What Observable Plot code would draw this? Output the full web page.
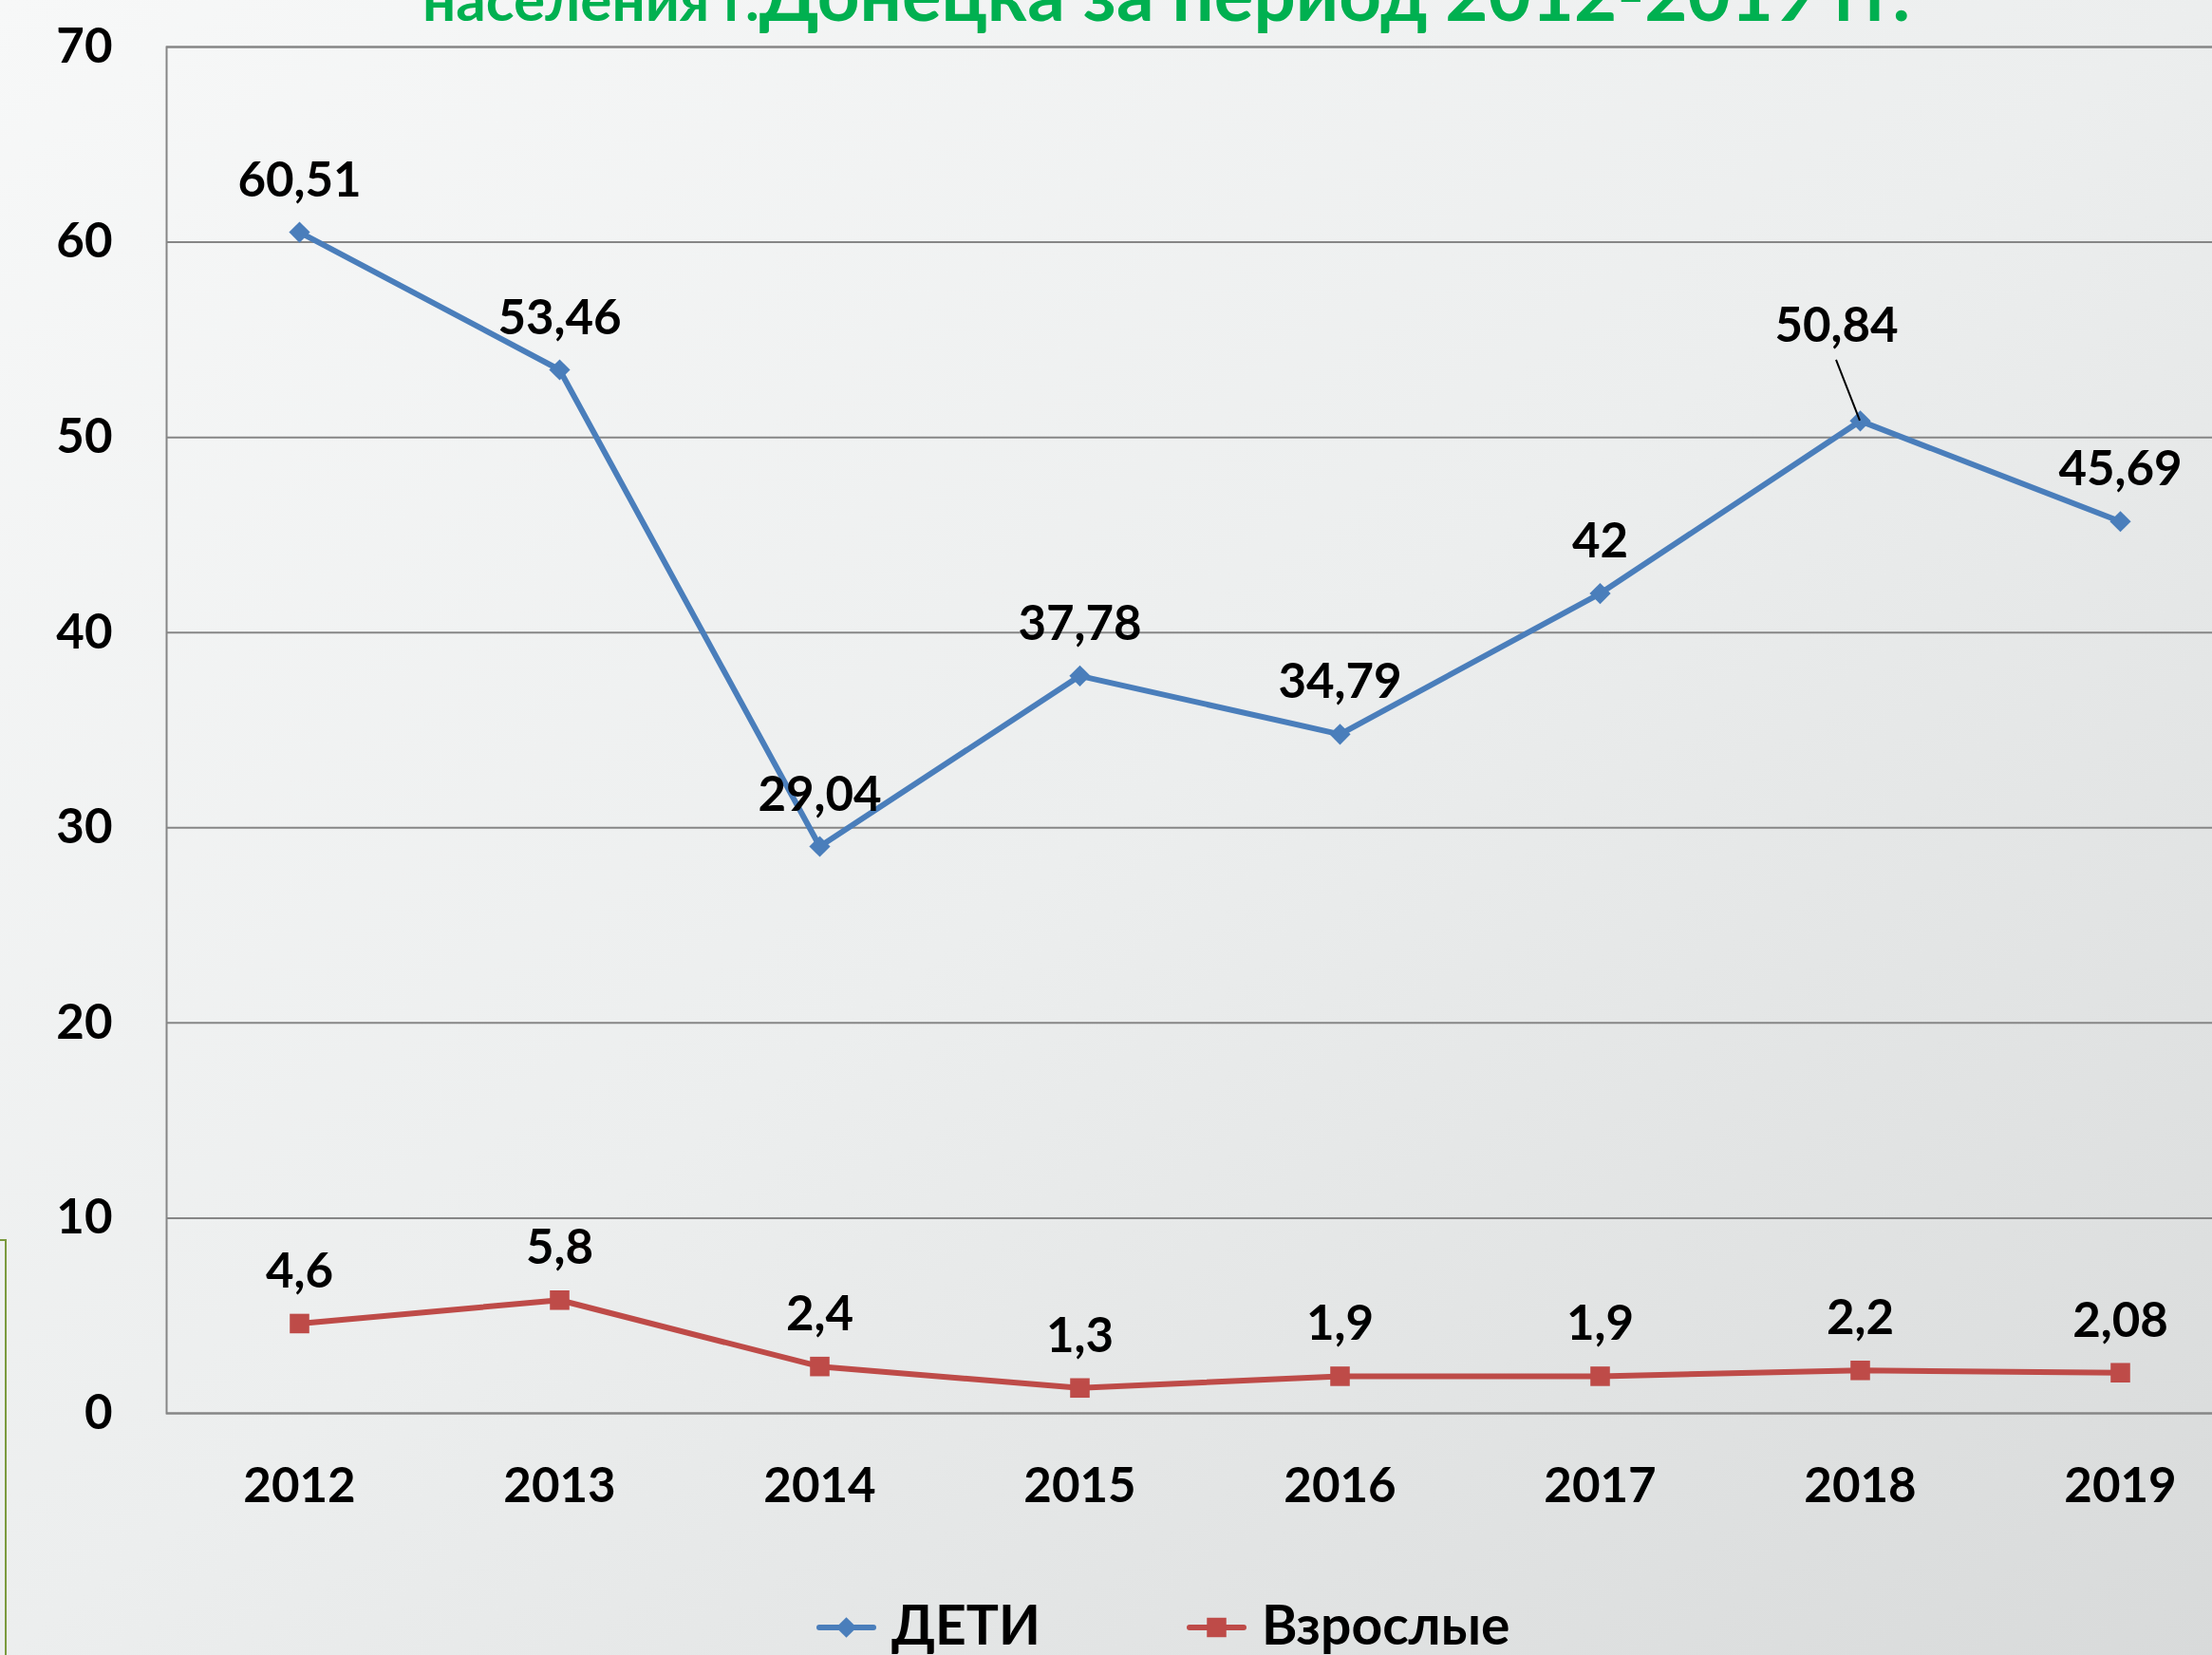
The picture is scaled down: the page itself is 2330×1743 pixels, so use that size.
<!DOCTYPE html>
<html>
<head>
<meta charset="utf-8">
<script src="https://cdn.jsdelivr.net/npm/d3@7"></script>
<script src="https://cdn.jsdelivr.net/npm/@observablehq/plot@0.6"></script>
<style>
  html, body { margin: 0; padding: 0; }
  #page { position: relative; width: 2330px; height: 1743px; overflow: hidden;
    background: linear-gradient(to bottom right, #f7f8f8 0%, #eceeee 50%, #d8dada 100%);
    font-family: Lato, "Noto Sans", sans-serif; }
  #title { position: absolute; left: 0; top: 0; }
  #chart { position: absolute; left: 0; top: 0; }
  #legend { position: absolute; left: 0; top: 1640px; }
  #box { position: absolute; left: -100px; top: 1305px; width: 103px; height: 600px; border: 2px solid #7b9a3e; }
</style>
</head>
<body>
<div id="page">
  <div id="box"></div>
  <div id="chart"></div>
  <svg id="title" width="2330" height="60">
    <text x="2012" y="22" text-anchor="end" fill="#00B050" font-weight="bold" font-family="Lato, 'Noto Sans', sans-serif"><tspan font-size="62">населения г.</tspan><tspan font-size="78">Донецка за период 2012-2019 гг.</tspan></text>
  </svg>
  <svg id="legend" width="2330" height="103"></svg>
</div>
<script>
// ---- data ----
const years = ["2012", "2013", "2014", "2015", "2016", "2017", "2018", "2019"];
const childrenValues = [60.51, 53.46, 29.04, 37.78, 34.79, 42, 50.84, 45.69];
const adultValues = [4.6, 5.8, 2.4, 1.3, 1.9, 1.9, 2.2, 2.08];
const seriesNames = ["ДЕТИ", "Взрослые"];
const yTicks = [0, 10, 20, 30, 40, 50, 60, 70];
const seriesColors = ["#4A7EBB", "#BE4B48"];

const fmt = v => String(v).replace(".", ",");
const children = years.map((year, i) => ({year, value: childrenValues[i], series: seriesNames[0]}));
const adults = years.map((year, i) => ({year, value: adultValues[i], series: seriesNames[1]}));
const calloutYear = "2018";

const FONT = "Lato, 'Noto Sans', sans-serif";

const leader = (index, scales) => {
  const d = children.find(d => d.year === calloutYear);
  const x = scales.x(d.year), y = scales.y(d.value);
  const line = document.createElementNS("http://www.w3.org/2000/svg", "line");
  line.setAttribute("x1", x - 25); line.setAttribute("y1", y - 64);
  line.setAttribute("x2", x); line.setAttribute("y2", y);
  line.setAttribute("stroke", "#000"); line.setAttribute("stroke-width", 2);
  return line;
};

const plot = Plot.plot({
  width: 2330,
  height: 1620,
  marginLeft: 175,
  marginRight: -43,
  marginTop: 49,
  marginBottom: 132,
  style: {background: "transparent", fontFamily: FONT, fontWeight: "bold", fontSize: "50px", color: "#000", overflow: "visible"},
  x: {type: "point", domain: years, padding: 0.5, label: null},
  y: {domain: [0, 70], ticks: yTicks, label: null},
  marks: [
    Plot.gridY(yTicks, {stroke: "#868686", strokeOpacity: 1, strokeWidth: 2}),
    Plot.frame({stroke: "#868686", strokeWidth: 2}),
    Plot.axisY({ticks: yTicks, tickSize: 0, tickPadding: 57, fontSize: 51, fontWeight: "bold", fill: "#000", label: null}),
    Plot.axisX({tickSize: 0, tickPadding: 57, fontSize: 51, fontWeight: "bold", fill: "#000", label: null}),
    Plot.line(children, {x: "year", y: "value", stroke: seriesColors[0], strokeWidth: 6}),
    Plot.line(adults, {x: "year", y: "value", stroke: seriesColors[1], strokeWidth: 6}),
    Plot.dot(children, {x: "year", y: "value", symbol: "diamond2", r: 10, fill: seriesColors[0], stroke: "none"}),
    Plot.dot(adults, {x: "year", y: "value", symbol: "square", r: 11.6, fill: seriesColors[1], stroke: "none"}),
    leader,
    Plot.text(children.filter(d => d.year !== calloutYear), {x: "year", y: "value", text: d => fmt(d.value), lineAnchor: "bottom", dy: -38, fontSize: 51, fontWeight: "bold", fill: "#000"}),
    Plot.text(children.filter(d => d.year === calloutYear), {x: "year", y: "value", text: d => fmt(d.value), lineAnchor: "bottom", dy: -83, dx: -25, fontSize: 51, fontWeight: "bold", fill: "#000"}),
    Plot.text(adults, {x: "year", y: "value", text: d => fmt(d.value), lineAnchor: "bottom", dy: -38, fontSize: 51, fontWeight: "bold", fill: "#000"})
  ]
});
document.getElementById("chart").appendChild(plot);

// ---- legend ----
const legend = d3.select("#legend");
const items = [
  {name: seriesNames[0], color: seriesColors[0], symbol: d3.symbolDiamond2, size: 300, x: 863},
  {name: seriesNames[1], color: seriesColors[1], symbol: d3.symbolSquare, size: 420, x: 1253}
];
items.forEach(it => {
  const g = legend.append("g").attr("transform", `translate(${it.x},74)`);
  g.append("line").attr("x1", 0).attr("x2", 57).attr("stroke", it.color).attr("stroke-width", 6).attr("stroke-linecap", "round");
  g.append("path").attr("d", d3.symbol(it.symbol, it.size)()).attr("transform", "translate(28.5,0)").attr("fill", it.color);
  g.append("text").attr("x", 76).attr("y", 18).attr("font-family", FONT).attr("font-weight", "bold").attr("font-size", 57).attr("fill", "#000").text(it.name);
});
</script>
</body>
</html>
